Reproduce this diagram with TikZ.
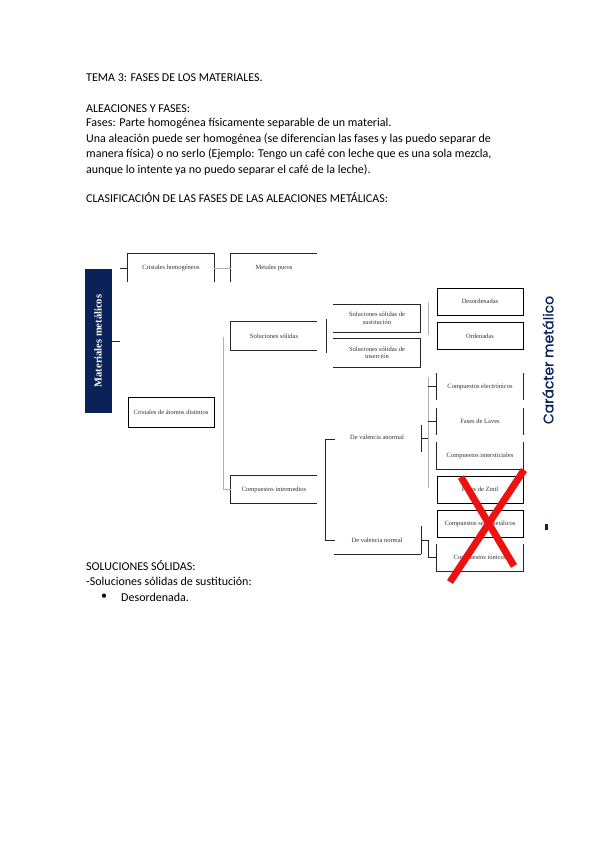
\documentclass[tikz,border=0pt]{standalone}
\usepackage{fontspec}
\setmainfont{Carlito}
\newfontfamily\dserif{Liberation Serif}
\newfontfamily\popp{Poppins}[FakeBold=0.8]
\definecolor{navy}{HTML}{0B2258}
\definecolor{boxtext}{HTML}{333333}
\definecolor{xred}{HTML}{EE1111}
\begin{document}
\begin{tikzpicture}[x=1pt,y=-1pt,
  doc/.style={anchor=west, inner sep=0pt, font=\fontsize{12}{14}\selectfont, text=black},
  lbl/.style={font=\dserif\fontsize{6.5}{7.5}\selectfont, text=boxtext, align=center, inner sep=0pt},
  bx/.style={lbl, minimum width=86pt, minimum height=28pt},
  rb/.style={lbl, minimum width=86pt, minimum height=27pt},
  ln/.style={line width=0.8pt, black!85},
  gl/.style={line width=0.8pt, black!30},
  xstroke/.style={xred, line width=7pt}]
\useasboundingbox (0,0) rectangle (599,848);
\fill[white] (0,0) rectangle (599,848);

% body text
\node[doc] (t1) at (86,78) {TEMA 3: FASES DE LOS MATERIALES.};
\node[doc] (t2) at (86,108.5) {ALEACIONES Y FASES:};
\node[doc] (t3) at (86,123.5) {Fases: Parte homogénea físicamente separable de un material.};
\node[doc] (t4) at (86,139) {Una aleación puede ser homogénea (se diferencian las fases y las puedo separar de};
\node[doc] (t5) at (86,154.5) {manera física) o no serlo (Ejemplo: Tengo un café con leche que es una sola mezcla,};
\node[doc] (t6) at (86,170) {aunque lo intente ya no puedo separar el café de la leche).};
\node[doc] (t7) at (86,197.5) {CLASIFICACIÓN DE LAS FASES DE LAS ALEACIONES METÁLICAS:};
\node[doc] (t8) at (86,566) {SOLUCIONES SÓLIDAS:};
\node[doc] (t9) at (86,581.5) {-Soluciones sólidas de sustitución:};
\node[doc] (t10) at (101,597) {\textbullet};
\node[doc] (t11) at (121,597) {Desordenada.};

% navy box
\node[fill=navy, minimum width=27pt, minimum height=144pt, inner sep=0pt] (mm) at (98,341) {};
\node[rotate=90, text=white, font=\dserif\bfseries\fontsize{10.5}{11}\selectfont, inner sep=0pt] (mmt) at (mm.center) {Materiales metálicos};

% boxes
\node[bx] (ch) at (171,268) {Cristales homogéneos};
\node[bx] (mp) at (274,268) {Metales puros};
\node[bx, draw, line width=0.8pt, minimum height=30pt] (cd) at (171,412) {Cristales de átomos distintos};
\node[bx] (ss) at (274,336) {Soluciones sólidas};
\node[bx, minimum height=27pt] (ci) at (274,489.5) {Compuestos intermedios};
\node[bx, minimum width=87pt, minimum height=27pt] (sus) at (377,318.5) {Soluciones sólidas de\\sustitución};
\node[bx, minimum width=87pt, minimum height=28pt] (ins) at (377,353) {Soluciones sólidas de\\inserción};
\node[rb, draw, line width=0.8pt] (des) at (480,301.5) {Desordenadas};
\node[rb, draw, line width=0.8pt] (ord) at (480,336) {Ordenadas};
\node[rb] (ce) at (480,386.5) {Compuestos electrónicos};
\node[rb] (fl) at (480,421.5) {Fases de Laves};
\node[rb] (cin) at (480,455.5) {Compuestos intersticiales};
\node[rb, draw, line width=0.8pt] (fz) at (480,489.5) {Fases de Zintl};
\node[rb, draw, line width=0.8pt] (cim) at (480,523.5) {Compuestos semimetálicos};
\node[rb] (cio) at (480,558) {Compuestos iónicos};
\node[lbl] (va) at (377,437) {De valencia anormal};
\node[lbl] (vn) at (377,540) {De valencia normal};

% partial box outlines
\draw[ln] (ch.south west) -- (ch.north west) -- (ch.north east) -- (ch.south east);
\draw[ln] (mp.south west) -- (mp.north west) -- (mp.north east);
\draw[ln] (ss.north east) -- (ss.north west) -- (ss.south west) -- (ss.south east);
\draw[ln] (ci.north east) -- (ci.north west) -- (ci.south west) -- (ci.south east);
\draw[ln] (sus.north west) -- (sus.north east) -- (sus.south east) -- (sus.south west);
\draw[ln] (ins.north west) -- (ins.north east) -- (ins.south east) -- (ins.south west);
\draw[ln] (ce.north west) -- (ce.south west);
\draw[ln] (ce.north east) -- (ce.south east);
\draw[ln] (fl.north west) -- (fl.south west);
\draw[ln] (fl.north east) -- (fl.south east);
\draw[ln] (cin.north west) -- (cin.south west) -- (cin.south east) -- (cin.north east);
\draw[ln] (cio.north west) -- (cio.south west) -- (cio.south east) -- (cio.north east);

% connectors
\coordinate (m1) at (120,341);
\draw[ln] (mm.east) -- (m1);
\coordinate (c0) at (120,268);
\draw[ln] (c0) -- (ch.west);
\draw[gl] (ch.east) -- (mp.west);
\coordinate (g1) at (223,337);
\coordinate (g2) at (223,489.5);
\draw[gl] (g1) -- (g2) -- (ci.west);
\coordinate (s1) at (326,319);
\coordinate (s2) at (326,353);
\draw[ln] (s1) -- (s2);
\coordinate (d1) at (428,302);
\coordinate (d2) at (428,335);
\draw[gl] (d1) -- (d2);
% upper group
\coordinate (u1) at (428,377);
\coordinate (u2) at (428,488);
\draw[gl] (u1) -- (u2);
\draw[ln] (u1 |- ce.west) -- (ce.west);
\draw[ln] (u1 |- fl.west) -- (fl.west);
\coordinate (k1) at (421,425);
\coordinate (k2) at (421,452);
\coordinate (k3) at (421,438);
\coordinate (k4) at (428,438);
\draw[ln] (k1) -- (k2);
\draw[ln] (k3) -- (k4);
% bracket
\coordinate (b1) at (335,439);
\coordinate (b2) at (325,439);
\coordinate (b3) at (325,540);
\coordinate (b4) at (335,540);
\draw[ln] (b1) -- (b2) -- (b3) -- (b4);
% lower group
\coordinate (l1) at (421,526);
\coordinate (l2) at (421,554);
\coordinate (l3) at (421,540);
\coordinate (l4) at (428,540);
\coordinate (l5) at (428,557);
\coordinate (l6) at (437,557);
\coordinate (l7) at (334,554);
\draw[ln] (l1) -- (l2);
\draw[ln] (l3) -- (l4) -- (l5) -- (l6);
\draw[ln] (l7) -- (l2);

% right side label
\node[rotate=90, text=navy, font=\popp\fontsize{14}{16}\selectfont, inner sep=0pt] (cm) at (548,360) {Carácter metálico};
\node[fill=navy, minimum width=2.5pt, minimum height=6pt, inner sep=0pt] (mk) at (546.5,527) {};

% red cross
\coordinate (x1) at (461,477);
\coordinate (x2) at (514,566);
\coordinate (x3) at (524,470);
\coordinate (x4) at (450,582);
\draw[xstroke] (x1) -- (x2);
\draw[xstroke] (x3) -- (x4);
\end{tikzpicture}
\end{document}
